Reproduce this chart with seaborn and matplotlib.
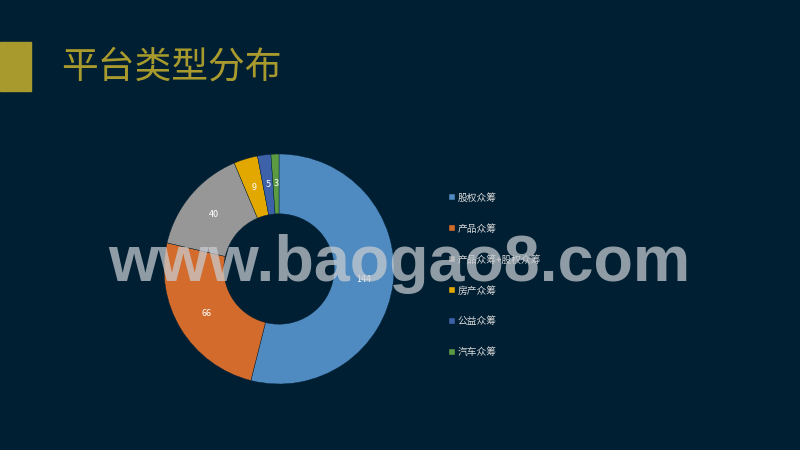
import matplotlib
matplotlib.use('Agg')
import matplotlib.pyplot as plt
import seaborn as sns
from matplotlib.patches import Rectangle

# data
categories = ['股权众筹', '产品众筹', '产品众筹+股权众筹', '房产众筹', '公益众筹', '汽车众筹']
counts = [144, 66, 40, 9, 5, 3]
colors = ['#4F8AC0', '#D26B2B', '#979797', '#E3A800', '#3D62AA', '#5C9B42']

bg = '#011F33'
sns.set_theme(style='white')
plt.rcParams['font.family'] = ['Noto Sans CJK SC', 'DejaVu Sans']

fig = plt.figure(figsize=(8, 4.5), dpi=100, facecolor=bg)

# title block
fig.patches.append(Rectangle((0, 1 - 91 / 450), 31 / 800, 49 / 450,
                             transform=fig.transFigure, color='#A89A2C', zorder=1))
fig.text(61 / 800, 1 - 67 / 450, '平台类型分布', color='#A89A2C', fontsize=26.5,
         va='center', ha='left')

# donut
ax = fig.add_axes([(279 - 115) / 800, (450 - 269 - 115) / 450, 230 / 800, 230 / 450])
ax.set_facecolor(bg)
wedges, texts = ax.pie(counts, colors=colors, startangle=90, counterclock=False,
                       labels=[str(c) for c in counts], labeldistance=0.74,
                       wedgeprops=dict(width=0.52, edgecolor=bg, linewidth=0.3),
                       textprops=dict(color='white', fontsize=6.5))
for t in texts:
    t.set_ha('center')
    t.set_va('center')
ax.set_xlim(-1, 1)
ax.set_ylim(-1, 1)

# legend
leg = fig.legend(wedges, categories, loc='upper left',
                 bbox_to_anchor=(440 / 800, 1 - 184 / 450), frameon=False,
                 fontsize=7, labelcolor='#D9D9D9', handlelength=0.6, handleheight=0.6,
                 handletextpad=0.3, labelspacing=2.15)

# watermark
fig.text(399 / 800, 1 - 264 / 450, 'www.baogao8.com', color='#C8CDD2', alpha=0.72,
         fontsize=46.5, fontweight='bold', family='Liberation Sans',
         ha='center', va='center', zorder=10)

fig.savefig('out.png', dpi=100, facecolor=bg)
